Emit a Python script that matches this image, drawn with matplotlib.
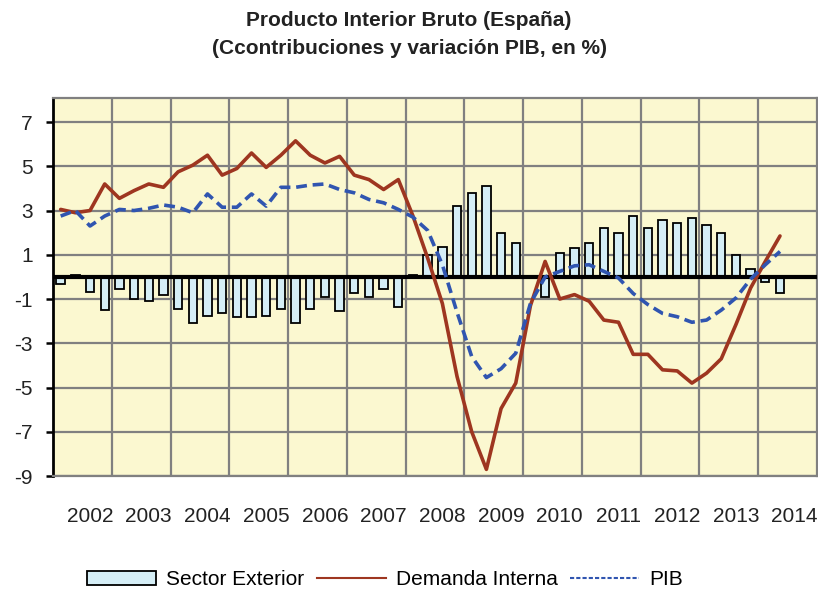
import matplotlib
matplotlib.use("Agg")
import matplotlib.pyplot as plt
from matplotlib.lines import Line2D
from matplotlib.patches import Patch
from matplotlib import font_manager
import numpy as np

plt.rcParams['font.family'] = ['Liberation Sans', 'DejaVu Sans']

# quarterly data, 2002Q1 .. 2014Q2 (52 category slots up to 2014Q4)
YEARS = [str(y) for y in range(2002, 2015)]
N_SLOTS = 52

SECTOR_EXTERIOR = [
    -0.3, 0.1, -0.7, -1.5, -0.55, -1.0, -1.1, -0.8,
    -1.45, -2.1, -1.75, -1.65, -1.8, -1.8, -1.75, -1.45,
    -2.1, -1.45, -0.9, -1.55, -0.75, -0.9, -0.55, -1.35,
    0.1, 1.0, 1.35, 3.2, 3.8, 4.1, 2.0, 1.55,
    0.0, -0.9, 1.1, 1.3, 1.55, 2.2, 2.0, 2.75,
    2.2, 2.55, 2.45, 2.65, 2.35, 2.0, 1.0, 0.35,
    -0.25, -0.75,
]

DEMANDA_INTERNA = [
    3.05, 2.9, 3.0, 4.2, 3.55, 3.9, 4.2, 4.05,
    4.75, 5.05, 5.5, 4.6, 4.9, 5.6, 4.95, 5.5,
    6.15, 5.5, 5.15, 5.45, 4.6, 4.4, 3.95, 4.4,
    2.75, 0.85, -1.2, -4.5, -7.0, -8.7, -5.95, -4.8,
    -1.3, 0.7, -1.0, -0.8, -1.1, -1.95, -2.05, -3.5,
    -3.5, -4.2, -4.25, -4.8, -4.35, -3.7, -2.15, -0.5,
    0.7, 1.85,
]

PIB = [
    2.75, 3.0, 2.3, 2.75, 3.05, 3.0, 3.1, 3.25,
    3.15, 2.9, 3.75, 3.15, 3.15, 3.75, 3.2, 4.05,
    4.05, 4.15, 4.2, 3.95, 3.8, 3.5, 3.35, 3.05,
    2.7, 2.1, 0.55, -1.6, -3.6, -4.55, -4.15, -3.45,
    -1.2, 0.0, 0.25, 0.5, 0.55, 0.25, -0.05, -0.75,
    -1.25, -1.65, -1.8, -2.05, -1.95, -1.5, -0.95, -0.1,
    0.55, 1.15,
]

Y_TICKS = [-9, -7, -5, -3, -1, 1, 3, 5, 7]

BG = "#FBF8D0"
BAR_FACE = "#D5EEF6"
RED = "#9E3620"
BLUE = "#3055B0"
GRID = "#808080"

# condensed bold for the title if the narrow face is there
installed = {f.name for f in font_manager.fontManager.ttflist}
TITLE_FONT = ["Liberation Sans Narrow"] if "Liberation Sans Narrow" in installed else ["Liberation Sans"]
TITLE_SIZE = 16 if "Liberation Sans Narrow" in installed else 15

fig = plt.figure(figsize=(8.18, 5.90), dpi=100)
ax = fig.add_axes([0.0652, 0.1932, 0.9332, 0.6412])
ax.set_facecolor(BG)

x = np.arange(len(SECTOR_EXTERIOR))
ax.bar(x, SECTOR_EXTERIOR, width=0.57, color=BAR_FACE, edgecolor="black",
       linewidth=1.3, zorder=3)
ax.axhline(0, color="black", linewidth=3.0, zorder=4)
ax.plot(x, DEMANDA_INTERNA, color=RED, linewidth=2.6, zorder=5,
        solid_joinstyle="round", solid_capstyle="round")
ax.plot(x, PIB, color=BLUE, linewidth=2.6, linestyle=(0, (3, 1.6)), zorder=5)

ax.set_xlim(-0.5, N_SLOTS - 0.5)
ax.set_ylim(-9, 8.1)

# year boundaries as grid, labels mid-year
ax.set_xticks(np.arange(3.5, N_SLOTS - 1, 4), minor=True)
ax.set_xticks(np.arange(2, N_SLOTS, 4))
ax.set_xticklabels(YEARS, fontsize=15, color="#222222")
ax.tick_params(axis="x", which="both", length=0, pad=22)
ax.xaxis.grid(True, which="minor", color=GRID, linewidth=1.6, zorder=1)

ax.set_yticks(Y_TICKS)
ax.set_yticklabels([str(v) for v in Y_TICKS], fontsize=15, color="#222222")
ax.tick_params(axis="y", length=5, width=1.8, pad=10, direction="out")
ax.yaxis.grid(True, color=GRID, linewidth=1.6, zorder=1)
ax.set_axisbelow(True)

for side in ["top", "right", "bottom"]:
    ax.spines[side].set_color(GRID)
    ax.spines[side].set_linewidth(1.6)
ax.spines["left"].set_color("black")
ax.spines["left"].set_linewidth(2)

fig.text(0.5, 0.965, "Producto Interior Bruto (España)", ha="center", va="center",
         fontsize=TITLE_SIZE, fontweight="bold", color="#222222", family=TITLE_FONT)
fig.text(0.5, 0.917, "(Ccontribuciones y variación PIB, en %)", ha="center",
         va="center", fontsize=TITLE_SIZE, fontweight="bold", color="#222222",
         family=TITLE_FONT)

handles = [
    Patch(facecolor=BAR_FACE, edgecolor="black", linewidth=1.3),
    Line2D([0], [0], color=RED, linewidth=1.5),
    Line2D([0], [0], color=BLUE, linewidth=1.5, linestyle=(0, (2, 1))),
]
fig.legend(handles, ["Sector Exterior", "Demanda Interna", "PIB"],
           loc="center", bbox_to_anchor=(0.471, 0.017), ncol=3, frameon=False,
           fontsize=15, handlelength=3.3, handletextpad=0.5, columnspacing=0.6,
           handleheight=0.7)

fig.savefig("out.png", dpi=100, facecolor="white")
